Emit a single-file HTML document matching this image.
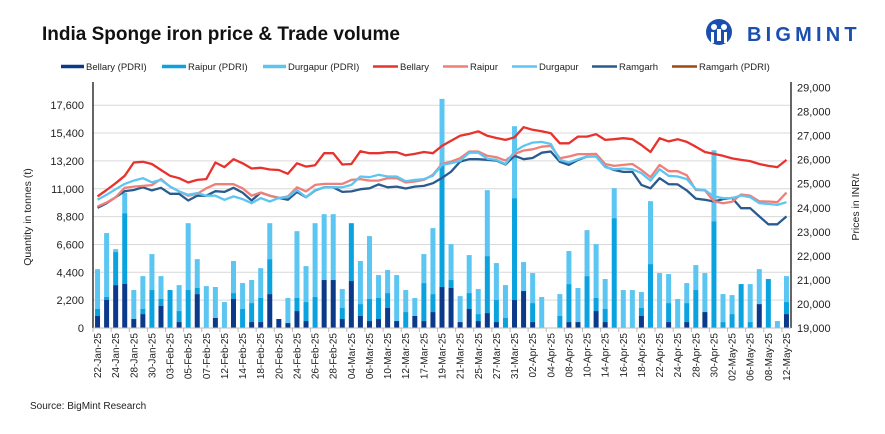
<!DOCTYPE html>
<html><head><meta charset="utf-8">
<style>
body{margin:0;background:#fff;font-family:"Liberation Sans",sans-serif;}
svg text{font-family:"Liberation Sans",sans-serif;}
</style></head>
<body>
<svg id="chart" width="885" height="429" viewBox="0 0 885 429" xmlns="http://www.w3.org/2000/svg">
<rect width="885" height="429" fill="#fff"/>
<text x="42" y="40" font-size="19" font-weight="bold" fill="#111">India Sponge iron price &amp; Trade volume</text>
<g>
<circle cx="719" cy="32" r="13" fill="#1a4fb0"/>
<circle cx="714" cy="27" r="3" fill="#fff"/>
<circle cx="724" cy="27" r="3" fill="#fff"/>
<rect x="711" y="32" width="3" height="11" fill="#fff"/>
<rect x="724" y="32" width="3" height="11" fill="#fff"/>
<rect x="717" y="29" width="4" height="12" fill="#fff"/>
<text x="747" y="41" font-size="20" font-weight="bold" fill="#1a4fb0" letter-spacing="4.2">BIGMINT</text>
</g>
<g id="legend" font-size="9" fill="#222"></g>
<g id="grid"></g>
<g id="bars"></g>
<g id="lines"></g>
<g id="axes"></g>
<text x="30" y="409" font-size="10" fill="#222">Source: BigMint Research</text>
</svg>
<script>
const categories=["22-Jan-25","23-Jan-25","24-Jan-25","25-Jan-25","28-Jan-25","29-Jan-25","30-Jan-25","31-Jan-25","03-Feb-25","04-Feb-25","05-Feb-25","06-Feb-25","07-Feb-25","10-Feb-25","12-Feb-25","13-Feb-25","14-Feb-25","17-Feb-25","18-Feb-25","19-Feb-25","20-Feb-25","21-Feb-25","24-Feb-25","25-Feb-25","26-Feb-25","27-Feb-25","28-Feb-25","03-Mar-25","04-Mar-25","05-Mar-25","06-Mar-25","07-Mar-25","10-Mar-25","11-Mar-25","12-Mar-25","13-Mar-25","17-Mar-25","18-Mar-25","19-Mar-25","20-Mar-25","21-Mar-25","24-Mar-25","25-Mar-25","26-Mar-25","27-Mar-25","28-Mar-25","31-Mar-25","01-Apr-25","02-Apr-25","03-Apr-25","04-Apr-25","07-Apr-25","08-Apr-25","09-Apr-25","10-Apr-25","11-Apr-25","14-Apr-25","15-Apr-25","16-Apr-25","17-Apr-25","18-Apr-25","21-Apr-25","22-Apr-25","23-Apr-25","24-Apr-25","25-Apr-25","28-Apr-25","29-Apr-25","30-Apr-25","01-May-25","02-May-25","05-May-25","06-May-25","07-May-25","08-May-25","09-May-25","12-May-25"];
const volBellary=[950,2210,3390,3500,710,1100,0,1740,0,470,0,2680,0,790,0,2290,0,470,470,2680,710,390,1340,550,0,3790,3790,710,3710,950,550,710,1580,550,0,950,550,1260,3240,3160,470,1500,550,1180,470,0,2210,2920,470,0,0,0,470,470,0,1340,470,0,0,0,950,0,0,470,0,470,0,1260,0,0,0,0,0,1890,0,0,1100];
const volRaipur=[550,240,2610,5570,0,400,3000,550,3000,870,3000,480,0,0,0,470,1500,1500,1900,2760,0,0,1030,1500,2450,0,0,870,4570,940,1740,1660,1180,0,1260,0,3000,1420,9760,630,0,1260,550,4500,1740,790,8050,0,1500,0,0,950,3000,0,4100,1030,1030,8680,0,0,630,5050,0,1500,0,1500,3000,0,8440,470,1100,3470,470,0,3870,0,950];
const volDurgapur=[3150,5050,230,1610,2290,2600,2840,1810,0,2050,5280,2280,3310,2450,2050,2530,2050,1820,2360,2840,0,1980,5280,2840,5830,5200,5200,1500,0,3400,4970,1810,1820,3630,1740,1420,2290,5210,5100,2840,2050,3000,1980,5210,2920,2600,5680,2290,2370,2450,0,1730,2610,2690,3630,4260,2370,2370,3000,3000,1260,4970,4340,2290,2290,1580,1970,3080,5600,2210,1500,0,3000,2760,0,550,2050];
const priceBellary=[24470,24740,25020,25330,25880,25910,25820,25570,25330,25230,25050,25160,25190,25880,25690,26020,25850,25630,25660,25590,25570,25410,25850,25710,25770,26270,26270,25800,25820,26350,26270,26270,26310,26310,26180,26240,26320,26270,26570,26790,26990,27070,27180,26990,26900,26820,26930,27350,27240,27180,27100,26680,26680,26960,26960,27060,26820,26850,26890,26850,26610,26320,26890,26760,26850,26740,26540,26320,26240,26160,26050,25990,25940,25820,25740,25690,25990];
const priceRaipur=[24050,24220,24440,24830,24880,24910,24940,25190,24880,24680,24500,24580,24810,24980,24980,24980,24810,24500,24630,24500,24400,24470,24850,24680,24950,24990,24990,24990,25160,25190,25130,25130,25230,25230,25050,25090,25160,25370,25820,25920,26060,26340,26340,26160,26100,25960,26240,26380,26430,26540,26570,26060,26130,26230,26230,26240,25820,25740,25780,25820,25570,25270,25780,25520,25520,25350,24740,24720,24270,24190,24250,24550,24500,24270,24260,24230,24630];
const priceDurgapur=[24330,24540,24770,24990,25130,25230,25060,25160,24880,24680,24540,24610,24500,24500,24330,24470,24360,24190,24400,24260,24410,24440,24740,24440,24740,24850,24850,24850,24950,25300,25270,25370,25300,25300,25100,25160,25190,25330,25780,25850,25950,26290,26290,26040,25990,25820,26340,26570,26710,26740,26650,25990,25880,26020,26130,26130,25690,25600,25630,25600,25440,25130,25600,25330,25300,25190,24770,24740,24470,24400,24400,24510,24440,24190,24160,24120,24230];
const priceRamgarh=[24000,24190,24440,24690,24740,24850,24720,24830,24580,24580,24300,24500,24500,24690,24660,24830,24630,24300,24630,24500,24410,24330,24660,24440,24720,24850,24850,24660,24680,24770,24810,24970,24850,24880,24800,24880,24910,25020,25240,25500,25920,26020,26020,25990,25960,25800,26160,26020,26070,26290,26340,25910,25780,25990,26130,26130,25710,25570,25490,25490,24950,24810,25230,24980,24970,24720,24380,24330,24260,24360,24410,23980,23980,23640,23310,23310,23640];
const leftTicks=[0,2200,4400,6600,8800,11000,13200,15400,17600];
const rightTicks=[19000,20000,21000,22000,23000,24000,25000,26000,27000,28000,29000];

const NS="http://www.w3.org/2000/svg";
const X0=93,X1=791,YB=328;
const n=categories.length, step=(X1-X0)/n;
function xPos(i){return X0+step*(i+0.5);}
function yL(v){return YB-v/2200*27.85;}
function yR(p){return YB-(p-19000)*0.02405;}
function mk(tag,attrs,parent){const e=document.createElementNS(NS,tag);for(const k in attrs)e.setAttribute(k,attrs[k]);parent.appendChild(e);return e;}
const grid=document.getElementById('grid'),bars=document.getElementById('bars'),lines=document.getElementById('lines'),axes=document.getElementById('axes'),legend=document.getElementById('legend');

leftTicks.forEach(v=>{
  if(v>0){const g=mk('line',{x1:X0,x2:X1,y1:yL(v),y2:yL(v),stroke:'#d9d9d9','stroke-width':1},grid);
  
  }
  const t=mk('text',{x:84,y:yL(v)+4,'text-anchor':'end','font-size':11,fill:'#222'},axes);
  t.textContent=v.toLocaleString('en-US');
  
  
});
rightTicks.forEach(v=>{
  const t=mk('text',{x:797,y:yR(v)+4,'font-size':11,fill:'#222'},axes);
  t.textContent=v.toLocaleString('en-US');
  
  
});
const bw=5;
for(let i=0;i<n;i++){
  const segs=[[volBellary[i],'#0b3a8a','bar-bellary'],[volRaipur[i],'#0aa3df','bar-raipur'],[volDurgapur[i],'#5cc6f2','bar-durgapur']];
  let base=0;
  segs.forEach(s=>{
    if(s[0]>0){const r=mk('rect',{x:xPos(i)-bw/2,y:yL(base+s[0]),width:bw,height:yL(base)-yL(base+s[0]),fill:s[1]},bars);
    
    }
    base+=s[0];
  });
}
function drawLine(arr,color,name,w){
  const pts=arr.map((p,i)=>xPos(i).toFixed(1)+','+yR(p).toFixed(1)).join(' ');
  const pl=mk('polyline',{points:pts,fill:'none',stroke:color,'stroke-width':w,'stroke-linejoin':'round'},lines);
  
  
}
drawLine(priceRamgarh,'#2a5b8f','line-ramgarh',2.3);
drawLine(priceRaipur,'#f07f78','line-raipur',2.3);
drawLine(priceDurgapur,'#5cc6f2','line-durgapur',2.3);
drawLine(priceBellary,'#e8322d','line-bellary',2.3);

let a=mk('line',{x1:X0,x2:X0,y1:82,y2:YB,stroke:'#000','stroke-width':1.2},axes);


a=mk('line',{x1:X1,x2:X1,y1:82,y2:YB,stroke:'#000','stroke-width':1.2},axes);


a=mk('line',{x1:X0,x2:X1,y1:YB,y2:YB,stroke:'#bbb','stroke-width':1},axes);


for(let i=0;i<=n;i+=2){
  const tk=mk('line',{x1:X0+step*i,x2:X0+step*i,y1:YB,y2:YB+4,stroke:'#bbb'},axes);
  
  
}
categories.forEach((c,i)=>{
  if(i%2)return;
  const x=xPos(i)+3.5,y=333;
  const t=mk('text',{x:x,y:y,'text-anchor':'end','font-size':10,fill:'#222',transform:`rotate(-90 ${x} ${y})`},axes);
  t.textContent=c;
  
  
});
let tt=mk('text',{x:31,y:217,'text-anchor':'middle','font-size':10.5,fill:'#222',transform:'rotate(-90 31 217)'},axes);
tt.textContent='Quantity in tonnes (t)';


tt=mk('text',{x:859,y:207,'text-anchor':'middle','font-size':10.5,fill:'#222',transform:'rotate(-90 859 207)'},axes);
tt.textContent='Prices in INR/t';



const legItems=[['Bellary (PDRI)','#0b3a8a',61,86,3.5],['Raipur (PDRI)','#0aa3df',162,188,3.5],['Durgapur (PDRI)','#5cc6f2',263,288,3.5],['Bellary','#e8322d',373,400,2.5],['Raipur','#f07f78',443,470,2.5],['Durgapur','#5cc6f2',512,539,2.5],['Ramgarh','#2a5b8f',592,619,2.5],['Ramgarh (PDRI)','#9a4a12',672,699,2.5]];
legItems.forEach(it=>{
  const g=mk('g',{},legend);
  
  
  mk('line',{x1:it[2],x2:it[3]-2,y1:66.5,y2:66.5,stroke:it[1],'stroke-width':it[4]},g);
  const t=mk('text',{x:it[3],y:70,'font-size':9.5,fill:'#222'},g);
  t.textContent=it[0];
});
</script>
</body></html>
